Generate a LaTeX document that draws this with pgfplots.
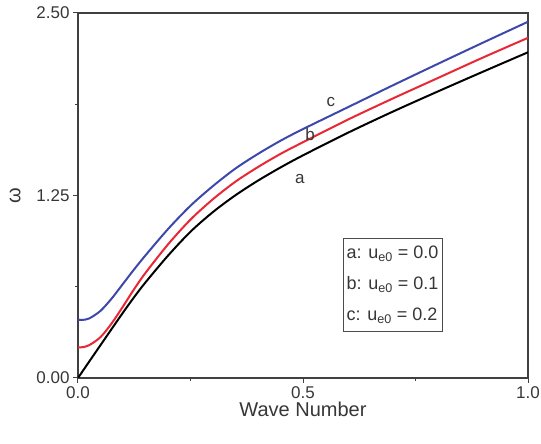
\documentclass[border=0pt]{standalone}
\usepackage{fontspec}
\setmainfont{Liberation Sans}
\usepackage{pgfplots}
\pgfplotsset{compat=1.18}
\usetikzlibrary{calc}
\definecolor{cblue}{RGB}{62,72,170}
\definecolor{cred}{RGB}{232,40,52}
\definecolor{ctext}{RGB}{55,55,55}
\newcommand{\bigf}{\fontsize{17}{20}\selectfont}

\begin{document}
\begin{tikzpicture}
\begin{axis}[scale only axis, width=450pt, height=365pt,
  xmin=0, xmax=1, ymin=0, ymax=2.5,
  xtick={0,0.5,1}, ytick={0,1.25,2.5},
  minor tick num=1, tick align=outside,
  xtick pos=bottom, ytick pos=left,
  major tick length=5pt, minor tick length=3pt,
  axis line style={black!75, line width=1.2pt},
  every tick/.style={black!75, line width=1pt},
  /pgf/number format/assume math mode=true,
  xticklabel style={/pgf/number format/.cd, fixed, fixed zerofill, precision=1},
  yticklabel style={/pgf/number format/.cd, fixed, fixed zerofill, precision=2},
  tick label style={font=\bigf, text=ctext},
  label style={font=\fontsize{20}{22}\selectfont, text=ctext},
  xlabel={Wave Number}, ylabel={ω},
  ylabel style={at={(rel axis cs:-0.14,0.5)}, anchor=center},
  xlabel style={yshift=3pt},
  every axis plot/.append style={line width=2pt, smooth, tension=0.5},
]
\addplot[cblue] coordinates {
(0,0.40) (0.01,0.398) (0.025,0.408) (0.05,0.46) (0.075,0.545) (0.1,0.645)
(0.125,0.745) (0.15,0.84) (0.2,1.02) (0.25,1.18) (0.3,1.315) (0.35,1.435)
(0.4,1.535) (0.45,1.625) (0.5,1.705) (0.6,1.855) (0.7,2.005) (0.8,2.152)
(0.9,2.297) (1.0,2.44)};
\addplot[cred] coordinates {
(0,0.21) (0.01,0.211) (0.025,0.225) (0.05,0.28) (0.075,0.375) (0.1,0.49)
(0.125,0.61) (0.15,0.72) (0.2,0.915) (0.25,1.085) (0.3,1.225) (0.35,1.345)
(0.4,1.445) (0.45,1.535) (0.5,1.615) (0.6,1.77) (0.7,1.915) (0.8,2.055)
(0.9,2.195) (1.0,2.33)};
\addplot[black] coordinates {
(0,0) (0.025,0.113) (0.05,0.225) (0.075,0.337) (0.1,0.448) (0.125,0.555)
(0.15,0.655) (0.2,0.838) (0.25,1.002) (0.3,1.137) (0.35,1.252) (0.4,1.352)
(0.45,1.442) (0.5,1.525) (0.6,1.68) (0.7,1.825) (0.8,1.963) (0.9,2.098)
(1.0,2.231)};
\node[font=\bigf, text=ctext] at (axis cs:0.493,1.36) {a};
\node[font=\bigf, text=ctext] at (axis cs:0.516,1.67) {b};
\node[font=\bigf, text=ctext] at (axis cs:0.562,1.89) {c};
\node[draw=black!70, line width=1pt, fill=white, align=left, inner sep=2pt,
  font=\fontsize{18}{31}\selectfont, text=ctext, minimum width=99pt, minimum height=93pt]
  at (axis cs:0.699,0.64)
  {a: u\textsubscript{e0} = 0.0\\ b: u\textsubscript{e0} = 0.1\\ c: u\textsubscript{e0} = 0.2};
\end{axis}
\pgfresetboundingbox
\useasboundingbox ($(current axis.south west)+(-78pt,-66pt)$) rectangle ($(current axis.north east)+(13pt,13pt)$);
\end{tikzpicture}
\end{document}
